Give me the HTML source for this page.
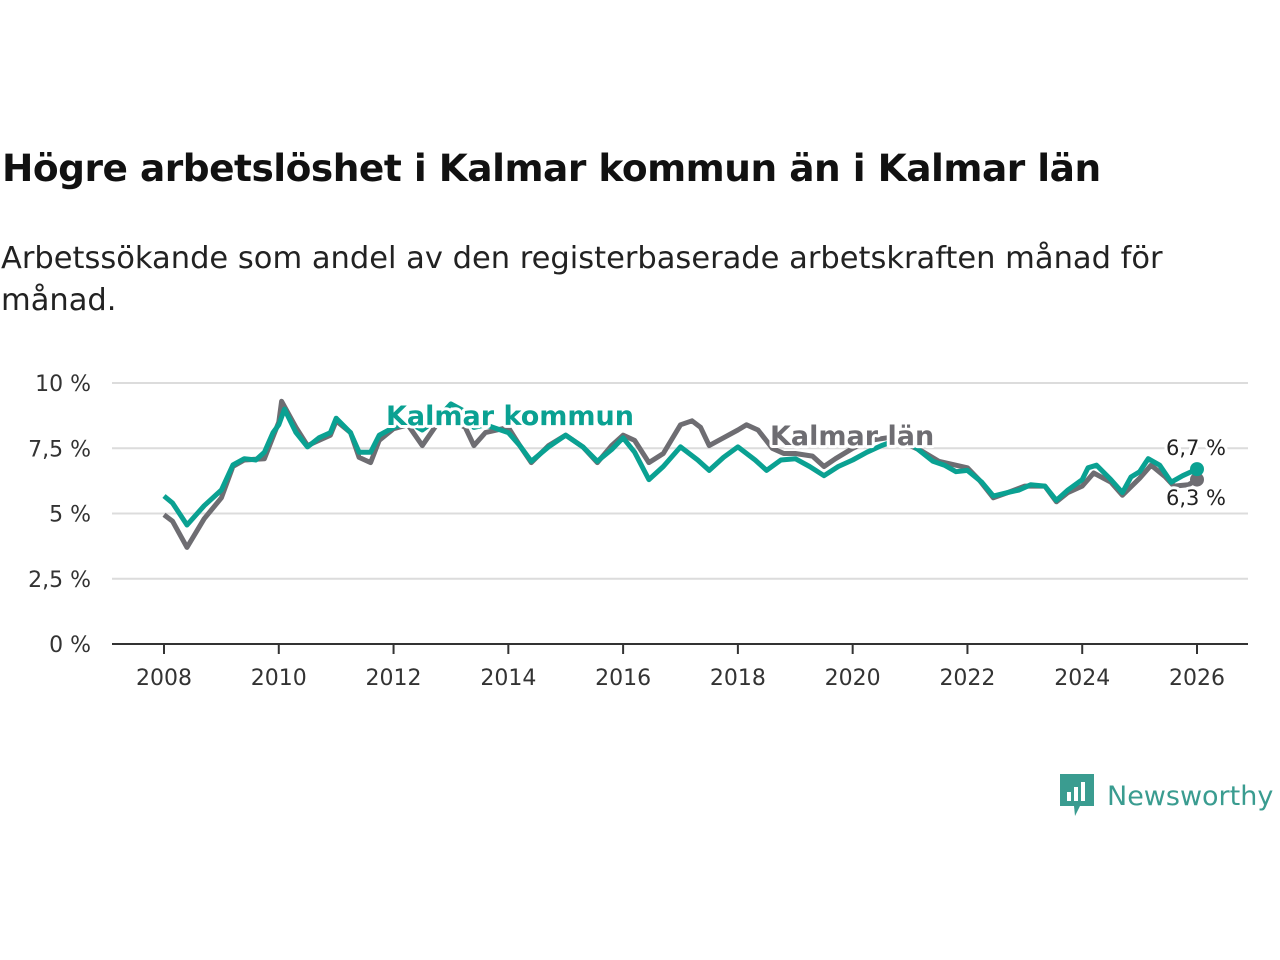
<!DOCTYPE html>
<html><head><meta charset="utf-8"><style>
body{margin:0;width:1280px;height:960px;background:#fff;font-family:"Liberation Sans","DejaVu Sans",sans-serif;overflow:hidden;position:relative}
h1{position:absolute;left:2px;top:146px;margin:0;font-size:37.5px;font-weight:bold;color:#111;font-family:"DejaVu Sans","Liberation Sans",sans-serif;letter-spacing:-0.5px}
.sub{position:absolute;left:1px;top:238px;margin:0;font-size:30.5px;line-height:42px;color:#222;width:1220px;font-family:"DejaVu Sans","Liberation Sans",sans-serif}
svg{position:absolute;left:0;top:0}
</style></head><body>
<h1>Högre arbetslöshet i Kalmar kommun än i Kalmar län</h1>
<p class="sub">Arbetssökande som andel av den registerbaserade arbetskraften månad för månad.</p>
<svg id="chart" width="1280" height="960"></svg>
<script>
const yTicks=[0,2.5,5,7.5,10];
const yTickLabels=["0 %","2,5 %","5 %","7,5 %","10 %"];
const xTicks=[2008,2010,2012,2014,2016,2018,2020,2022,2024,2026];
const kommunDates=[2008,2008.15,2008.4,2008.7,2009,2009.2,2009.4,2009.6,2009.75,2009.9,2010,2010.1,2010.3,2010.5,2010.7,2010.9,2011,2011.25,2011.4,2011.6,2011.75,2012,2012.25,2012.5,2012.75,2013,2013.25,2013.4,2013.6,2014,2014.2,2014.4,2014.7,2015,2015.3,2015.55,2015.8,2016,2016.2,2016.45,2016.7,2017,2017.3,2017.5,2017.75,2018,2018.3,2018.5,2018.75,2019,2019.25,2019.5,2019.75,2020,2020.25,2020.5,2020.75,2021,2021.2,2021.4,2021.6,2021.8,2022,2022.25,2022.45,2022.7,2022.9,2023.1,2023.35,2023.55,2023.75,2024,2024.1,2024.25,2024.5,2024.7,2024.85,2025,2025.15,2025.35,2025.55,2025.75,2026];
const kommunValues=[5.67,5.4,4.56,5.3,5.9,6.86,7.1,7.05,7.35,8.1,8.4,9.0,8.1,7.55,7.9,8.1,8.65,8.1,7.35,7.35,8.0,8.3,8.5,8.2,8.6,9.2,8.9,8.3,8.4,8.1,7.6,7.0,7.55,8.0,7.55,7.0,7.45,7.9,7.35,6.3,6.8,7.55,7.05,6.65,7.15,7.55,7.05,6.65,7.05,7.1,6.8,6.45,6.8,7.05,7.35,7.6,7.8,7.7,7.35,7.0,6.85,6.6,6.65,6.2,5.67,5.8,5.9,6.1,6.05,5.5,5.9,6.3,6.75,6.85,6.3,5.8,6.4,6.6,7.1,6.85,6.2,6.45,6.7];
const lanDates=[2008,2008.15,2008.4,2008.7,2009,2009.2,2009.4,2009.75,2010,2010.05,2010.3,2010.5,2010.7,2010.9,2011,2011.25,2011.4,2011.6,2011.75,2012,2012.25,2012.5,2012.75,2013,2013.25,2013.4,2013.6,2014,2014.2,2014.4,2014.7,2015,2015.3,2015.55,2015.8,2016,2016.2,2016.45,2016.7,2017,2017.2,2017.35,2017.5,2017.75,2018,2018.15,2018.35,2018.6,2018.8,2019,2019.3,2019.5,2019.7,2020,2020.3,2020.6,2020.9,2021.2,2021.5,2022,2022.2,2022.45,2022.7,2023,2023.35,2023.55,2023.75,2024,2024.2,2024.5,2024.7,2025,2025.2,2025.45,2025.6,2025.85,2026];
const lanValues=[4.95,4.7,3.7,4.8,5.6,6.8,7.05,7.1,8.5,9.3,8.3,7.6,7.8,8.0,8.55,8.1,7.15,6.95,7.8,8.25,8.4,7.6,8.4,8.6,8.3,7.6,8.1,8.3,7.6,6.95,7.6,8.0,7.55,6.95,7.6,8.0,7.8,6.95,7.3,8.4,8.55,8.3,7.6,7.9,8.2,8.4,8.2,7.5,7.3,7.3,7.2,6.8,7.1,7.5,7.8,7.9,7.7,7.4,7.0,6.75,6.3,5.6,5.8,6.05,6.05,5.45,5.8,6.05,6.55,6.2,5.7,6.35,6.85,6.4,6.05,6.1,6.3];
const NS="http://www.w3.org/2000/svg";
const svg=document.getElementById('chart');
const x=v=>164+(v-2008)*(1197-164)/18;
const y=v=>644-v*26.1;
function mk(t,a,p){const e=document.createElementNS(NS,t);for(const k in a)e.setAttribute(k,a[k]);(p||svg).appendChild(e);return e;}
yTicks.forEach((t,i)=>{
  if(t>0){const g=mk('line',{x1:112,x2:1248,y1:y(t),y2:y(t),stroke:'#dcdcdc','stroke-width':2});
  
  }
  const l=mk('text',{x:91,y:y(t)+8,'text-anchor':'end','font-size':22,fill:'#333','font-family':'DejaVu Sans, Liberation Sans, sans-serif'});
  l.textContent=yTickLabels[i];
  
  
});
const ax=mk('line',{x1:112,x2:1248,y1:644,y2:644,stroke:'#333','stroke-width':2});


xTicks.forEach(t=>{
  const tk=mk('line',{x1:x(t),x2:x(t),y1:644,y2:654,stroke:'#333','stroke-width':2});
  
  
  const l=mk('text',{x:x(t),y:685,'text-anchor':'middle','font-size':22,fill:'#333','font-family':'DejaVu Sans, Liberation Sans, sans-serif'});
  l.textContent=t;
  
  
});
function line(d,v,c,name){
  const p=mk('path',{d:d.map((t,i)=>(i?'L':'M')+x(t).toFixed(1)+','+y(v[i]).toFixed(1)).join(''),fill:'none',stroke:c,'stroke-width':5,'stroke-linejoin':'round'});
  
  
}
line(lanDates,lanValues,'#6e6d72','lan-line');
line(kommunDates,kommunValues,'#0aa192','kommun-line');
const d1=mk('circle',{cx:x(2026),cy:y(lanValues[lanValues.length-1]),r:7,fill:'#6e6d72'});


const d2=mk('circle',{cx:x(2026),cy:y(kommunValues[kommunValues.length-1]),r:7,fill:'#0aa192'});


function lab(tx,xx,yy,c,fs,fw,name,anchor){
  const t=mk('text',{x:xx,y:yy,'font-size':fs,'font-weight':fw,fill:c,stroke:'#fff','stroke-width':6,'paint-order':'stroke','stroke-linejoin':'round','text-anchor':anchor||'start','font-family':'DejaVu Sans, Liberation Sans, sans-serif'});
  t.textContent=tx;
  
  
}
lab('Kalmar kommun',386,425,'#0aa192',27,'bold','kommun-label');
lab('Kalmar län',770,445,'#6e6d72',27,'bold','lan-label');
lab('6,7 %',1196,455,'#222',21,'normal','kommun-end-value','middle');
lab('6,3 %',1196,505,'#222',21,'normal','lan-end-value','middle');
</script>
<div style="position:absolute;left:1060px;top:774px;display:flex;align-items:center">
<svg width="34" height="44" viewBox="0 0 34 44" style="position:static"><path d="M0 0h34v32H20l-5 10-1-10H0z" fill="#3a9c90"/><rect x="7" y="18" width="4" height="9" fill="#fff"/><rect x="14" y="13" width="4" height="14" fill="#fff"/><rect x="21" y="8" width="4" height="19" fill="#fff"/></svg>
<span style="font-size:27px;color:#3a9c90;margin-left:13px;font-family:'DejaVu Sans','Liberation Sans',sans-serif">Newsworthy</span>
</div>
</body></html>
